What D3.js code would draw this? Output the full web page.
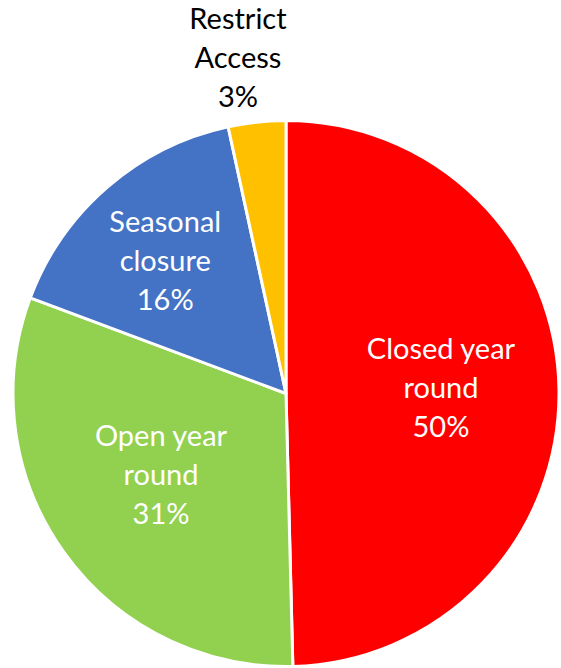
<!DOCTYPE html>
<html>
<head>
<meta charset="utf-8">
<script src="https://cdn.jsdelivr.net/npm/d3@7"></script>
<style>
  html, body { margin: 0; padding: 0; background: #fff; }
  svg { display: block; }
</style>
</head>
<body>
<svg id="chart" width="561" height="668"></svg>
<script>
// Data
const categories = ["Closed year round", "Open year round", "Seasonal closure", "Restrict Access"];
const values = [49.6, 31.1, 15.9, 3.4];
const percentLabels = ["50%", "31%", "16%", "3%"];
const labelLines = [["Closed year", "round"], ["Open year", "round"], ["Seasonal", "closure"], ["Restrict", "Access"]];
const colors = ["#FF0000", "#92D050", "#4472C4", "#FFC000"];

const width = 561, height = 668;
const cx = 286, cy = 393.5, radius = 273;
const svg = d3.select("#chart");
const g = svg.append("g").attr("transform", `translate(${cx},${cy})`);

const pie = d3.pie().sort(null).value(d => d.value);
const data = categories.map((c, i) => ({ name: c, value: values[i], pct: percentLabels[i], lines: labelLines[i], color: colors[i], i }));
const arcs = pie(data);

const arc = d3.arc().innerRadius(0).outerRadius(radius);
g.selectAll("path.slice")
  .data(arcs)
  .join("path")
  .attr("class", "slice")
  .attr("d", arc)
  .attr("fill", d => d.data.color)
  .attr("stroke", "#fff")
  .attr("stroke-width", 3)
  .attr("stroke-linejoin", "round");

// label layout (inside labels for big slices, outside for the small one)
const labelRadius = [155, 151, 180, 338];
const labelNudge = [[0, -3], [-2, -6], [-3, 4], [-12, 1]];
const fontSize = 29, lineH = 39, capH = 19;

arcs.forEach((d, idx) => {
  const mid = (d.startAngle + d.endAngle) / 2;
  const r = labelRadius[idx];
  const x = r * Math.sin(mid) + labelNudge[idx][0];
  const y = -r * Math.cos(mid) + labelNudge[idx][1];
  const lines = d.data.lines.concat([d.data.pct]);
  const t = g.append("text")
    .attr("text-anchor", "middle")
    .attr("font-family", "Lato, 'Open Sans', sans-serif")
    .attr("font-size", fontSize)
    .attr("fill", idx === 3 ? "#000" : "#fff");
  lines.forEach((ln, k) => {
    t.append("tspan")
      .attr("x", x)
      .attr("y", y + capH / 2 + (k - 1) * lineH)
      .text(ln);
  });
});
</script>
</body>
</html>
